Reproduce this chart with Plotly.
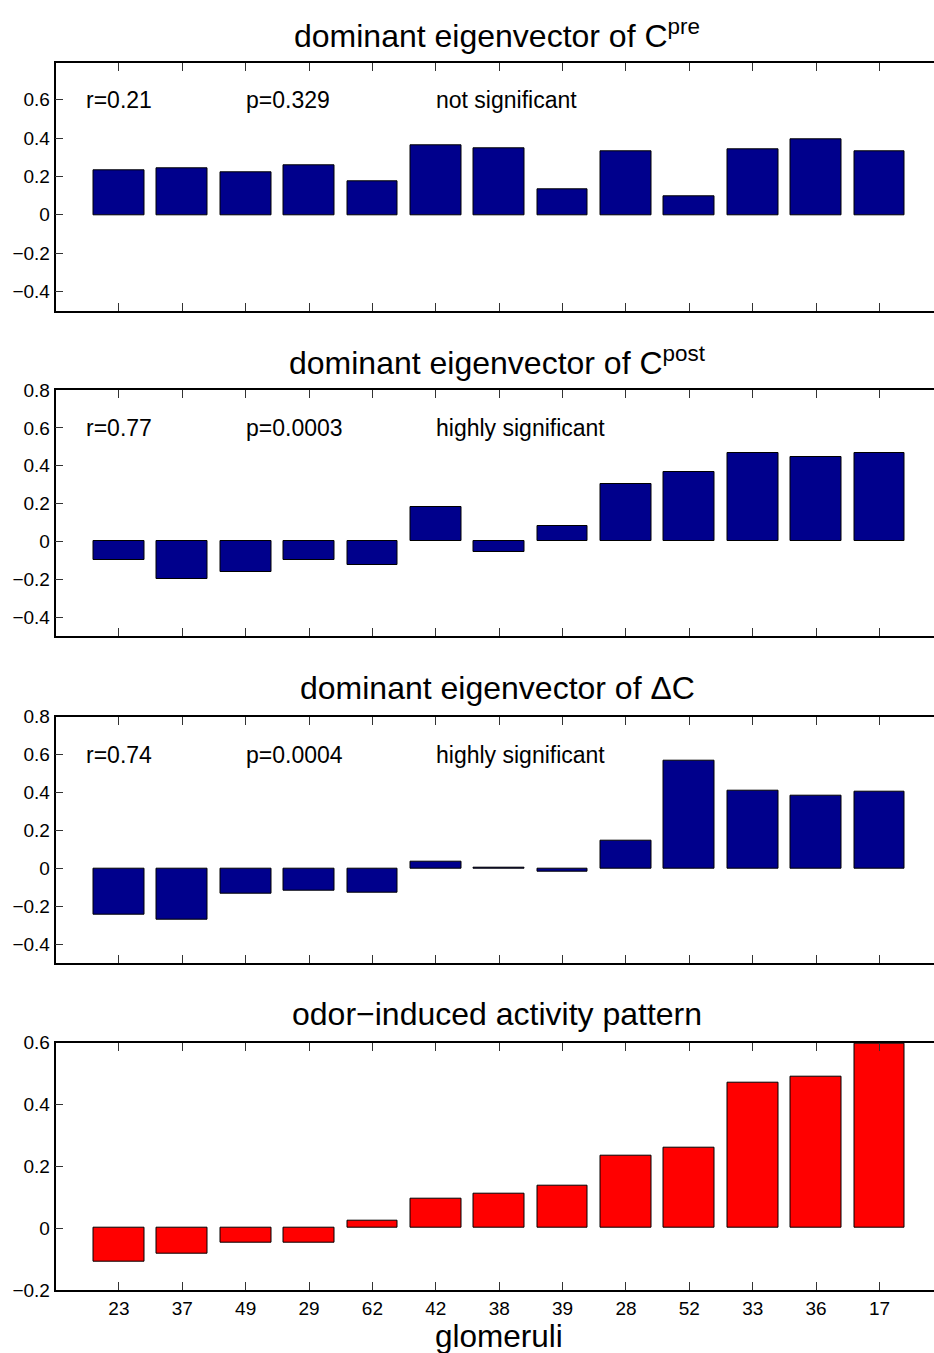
import plotly.graph_objects as go
from plotly.subplots import make_subplots

glomeruli = ['23', '37', '49', '29', '62', '42', '38', '39', '28', '52', '33', '36', '17']

c_pre = [0.23, 0.24, 0.224, 0.258, 0.173, 0.363, 0.349, 0.131, 0.33, 0.097, 0.339, 0.394, 0.33]
c_post = [-0.096, -0.2, -0.16, -0.096, -0.125, 0.182, -0.054, 0.082, 0.303, 0.367, 0.467, 0.447, 0.467]
delta_c = [-0.246, -0.269, -0.135, -0.116, -0.127, 0.037, 0.002, -0.019, 0.148, 0.569, 0.411, 0.385, 0.404]
odor = [-0.107, -0.083, -0.046, -0.046, 0.025, 0.096, 0.111, 0.138, 0.234, 0.261, 0.472, 0.491, 0.596]

titles = ['dominant eigenvector of C<sup>pre</sup>',
          'dominant eigenvector of C<sup>post</sup>',
          'dominant eigenvector of ΔC',
          'odor\u2212induced activity pattern']
stats = [('r=0.21', 'p=0.329', 'not significant'),
         ('r=0.77', 'p=0.0003', 'highly significant'),
         ('r=0.74', 'p=0.0004', 'highly significant')]

series = [c_pre, c_post, delta_c, odor]
colors = ['rgb(0,0,140)', 'rgb(0,0,140)', 'rgb(0,0,140)', 'rgb(255,0,0)']
y_ranges = [[-0.5, 0.79], [-0.5, 0.8], [-0.5, 0.8], [-0.2, 0.6]]
y_ticks = [[-0.4, -0.2, 0, 0.2, 0.4, 0.6],
           [-0.4, -0.2, 0, 0.2, 0.4, 0.6, 0.8],
           [-0.4, -0.2, 0, 0.2, 0.4, 0.6, 0.8],
           [-0.2, 0, 0.2, 0.4, 0.6]]

W, H = 934, 1353
# panel boxes in pixels (top, bottom)
boxes = [(63.3, 310.7), (390, 636), (716.7, 963.3), (1042.7, 1290)]
domains = [[1 - b / H, 1 - t / H] for t, b in boxes]

fig = make_subplots(rows=4, cols=1)

xpos = list(range(1, 14))
font = 'Liberation Sans, Arial, Helvetica, sans-serif'

def fmt(v):
    if v == 0:
        return '0'
    return f'{v:.1f}'.replace('-', '\u2212')

annotations = []
for i, vals in enumerate(series):
    r = i + 1
    fig.add_trace(go.Bar(
        x=xpos, y=vals, width=0.8,
        marker=dict(color=colors[i], line=dict(color='black', width=1)),
        showlegend=False,
        hoverinfo='skip'
    ), row=r, col=1)

    fig.update_xaxes(
        row=r, col=1,
        domain=[55.5 / W, 1.0],
        range=[0, 13.86],
        tickvals=xpos,
        ticktext=glomeruli if i == 3 else [''] * 13,
        ticks='inside', ticklen=8, tickwidth=1, tickcolor='#333',
        showline=True, linecolor='black', linewidth=2, mirror='ticks',
        showgrid=False, zeroline=False,
        tickfont=dict(size=19, color='black', family=font),
    )
    fig.update_yaxes(
        row=r, col=1,
        domain=domains[i],
        range=y_ranges[i],
        tickvals=y_ticks[i],
        ticktext=[fmt(v) for v in y_ticks[i]],
        ticks='inside', ticklen=8, tickwidth=1, tickcolor='#333',
        showline=True, linecolor='black', linewidth=1.5, mirror=False,
        showgrid=False, zeroline=False,
        tickfont=dict(size=19, color='black', family=font),
    )

    # panel title
    annotations.append(dict(
        text=titles[i], xref='paper', yref='paper',
        x=497 / W, y=1 - (boxes[i][0] - 29) / H, xanchor='center', yanchor='middle',
        showarrow=False, font=dict(size=32, color='black', family=font)
    ))

    if i < 3:
        xr = 'x' if r == 1 else f'x{r}'
        yr = 'y' if r == 1 else f'y{r}'
        for txt, xx in zip(stats[i], [0.45, 2.97, 5.97]):
            annotations.append(dict(
                text=txt, xref=xr, yref=yr, x=xx, y=0.6,
                xanchor='left', yanchor='middle', showarrow=False,
                font=dict(size=23, color='black', family=font)
            ))

annotations.append(dict(
    text='glomeruli', xref='paper', yref='paper',
    x=499 / W, y=1 - 1336 / H, xanchor='center', yanchor='middle',
    showarrow=False, font=dict(size=31.5, color='black', family=font)
))

fig.update_layout(
    width=W, height=H,
    margin=dict(l=0, r=0, t=0, b=0, autoexpand=False),
    plot_bgcolor='white',
    paper_bgcolor='white',
    font=dict(family=font, size=19, color='black'),
    annotations=annotations,
    bargap=0,
)

fig.write_html('out.html', config={'displayModeBar': False},
               post_script="document.body.style.margin='0';")
